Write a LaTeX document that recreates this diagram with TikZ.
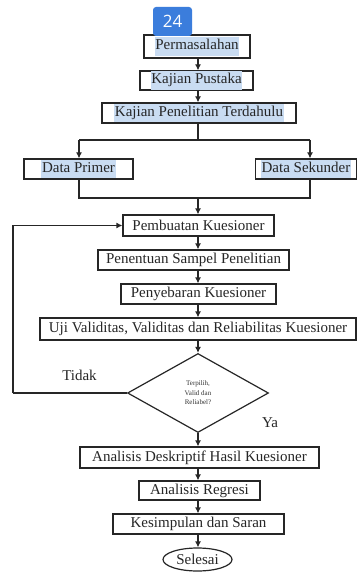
\documentclass[tikz,border=0pt]{standalone}
\usepackage{fontspec}
\setmainfont{Liberation Serif}
\newfontfamily\badgefont{Open Sans}
\usetikzlibrary{shapes.geometric,arrows.meta}
\definecolor{hlblue}{HTML}{C9DCF2}
\definecolor{badgeblue}{HTML}{3B7DDC}
\newcommand{\hltxt}[1]{{\setlength{\fboxsep}{0.6pt}\colorbox{hlblue}{\strut #1}}}
\begin{document}
\begin{tikzpicture}[x=1pt,y=-1pt,
  box/.style={draw=black!85,line width=1.2pt,inner sep=0pt,font=\fontsize{15}{17}\selectfont,text=black!85},
  arr/.style={-{Latex[length=6pt,width=6pt]},line width=1.2pt,draw=black!85},
  ln/.style={line width=1.2pt,draw=black!85},
  lbl/.style={font=\fontsize{15}{17}\selectfont,text=black!85}]
\useasboundingbox[fill=white] (0,0) rectangle (357,572);
% boxes
\node[box,minimum width=106pt,minimum height=23pt] (p1) at (197,46.5) {\hltxt{Permasalahan}};
\node[box,minimum width=113pt,minimum height=19pt] (p2) at (196.5,80.5) {\hltxt{Kajian Pustaka}};
\node[box,minimum width=194pt,minimum height=20pt] (p3) at (199,113) {\hltxt{Kajian Penelitian Terdahulu}};
\node[box,minimum width=109pt,minimum height=20pt] (dp) at (78.5,169) {\hltxt{Data Primer}};
\node[box,minimum width=101pt,minimum height=20pt] (ds) at (306,169) {\hltxt{Data Sekunder}};
\node[box,minimum width=151pt,minimum height=21pt] (pk) at (198.5,225.5) {Pembuatan Kuesioner};
\node[box,minimum width=191pt,minimum height=20pt] (ps) at (193.5,260) {Penentuan Sampel Penelitian};
\node[box,minimum width=155pt,minimum height=20pt] (py) at (198.5,294) {Penyebaran Kuesioner};
\node[box,minimum width=316pt,minimum height=22pt] (uji) at (198,329) {Uji Validitas, Validitas dan Reliabilitas Kuesioner};
\node[diamond,draw=black!85,line width=1.2pt,minimum width=141pt,minimum height=79pt,inner sep=0pt,align=center,font=\fontsize{7}{9.5}\selectfont,text=black!80] (dec) at (198,393) {Terpilih,\\Valid dan\\Reliabel?};
\node[box,minimum width=239pt,minimum height=21pt] (ad) at (199.5,457.5) {Analisis Deskriptif Hasil Kuesioner};
\node[box,minimum width=121pt,minimum height=19pt] (ar) at (199.5,490.5) {Analisis Regresi};
\node[box,minimum width=171pt,minimum height=20pt] (ks) at (198.5,524) {Kesimpulan dan Saran};
\node[ellipse,draw=black!85,line width=1.2pt,minimum width=69pt,minimum height=23pt,inner sep=0pt,font=\fontsize{15}{17}\selectfont,text=black!85] (sl) at (197.5,559.5) {Selesai};
% labels
\node[lbl] (tidak) at (79.5,375) {Tidak};
\node[lbl] (ya) at (270,423) {Ya};
% coordinates
\coordinate (b1) at (198,140);
\coordinate (bl) at (79,140);
\coordinate (br) at (310,140);
\coordinate (m1) at (198,198);
\coordinate (ml) at (79,198);
\coordinate (mr) at (310,198);
\coordinate (lp) at (13,393);
% connectors
\draw[arr] (p1.south -| m1) -- (p2.north -| m1);
\draw[arr] (p2.south -| m1) -- (p3.north -| m1);
\draw[ln] (p3.south -| b1) -- (b1);
\draw[ln] (bl) -- (br);
\draw[arr] (bl) -- (bl |- dp.north);
\draw[arr] (br) -- (br |- ds.north);
\draw[ln] (ml |- dp.south) -- (ml) -- (mr) -- (mr |- ds.south);
\draw[arr] (m1) -- (m1 |- pk.north);
\draw[arr] (pk.south -| m1) -- (ps.north -| m1);
\draw[arr] (ps.south -| m1) -- (py.north -| m1);
\draw[arr] (py.south -| m1) -- (uji.north -| m1);
\draw[arr] (uji.south -| m1) -- (dec.north);
\draw[ln] (dec.west) -- (lp);
\draw[arr] (lp) -- (lp |- pk.west) -- (pk.west);
\draw[arr] (dec.south) -- (ad.north -| dec.south);
\draw[arr] (ad.south -| m1) -- (ar.north -| m1);
\draw[arr] (ar.south -| m1) -- (ks.north -| m1);
\draw[arr] (ks.south -| m1) -- (sl.north -| m1);
% badge
\node[fill=badgeblue,rounded corners=3pt,minimum width=39pt,minimum height=29pt,inner sep=0pt,text=white,font=\badgefont\fontsize{17}{19}\selectfont] (badge) at (172.5,21.5) {24};
\end{tikzpicture}
\end{document}
